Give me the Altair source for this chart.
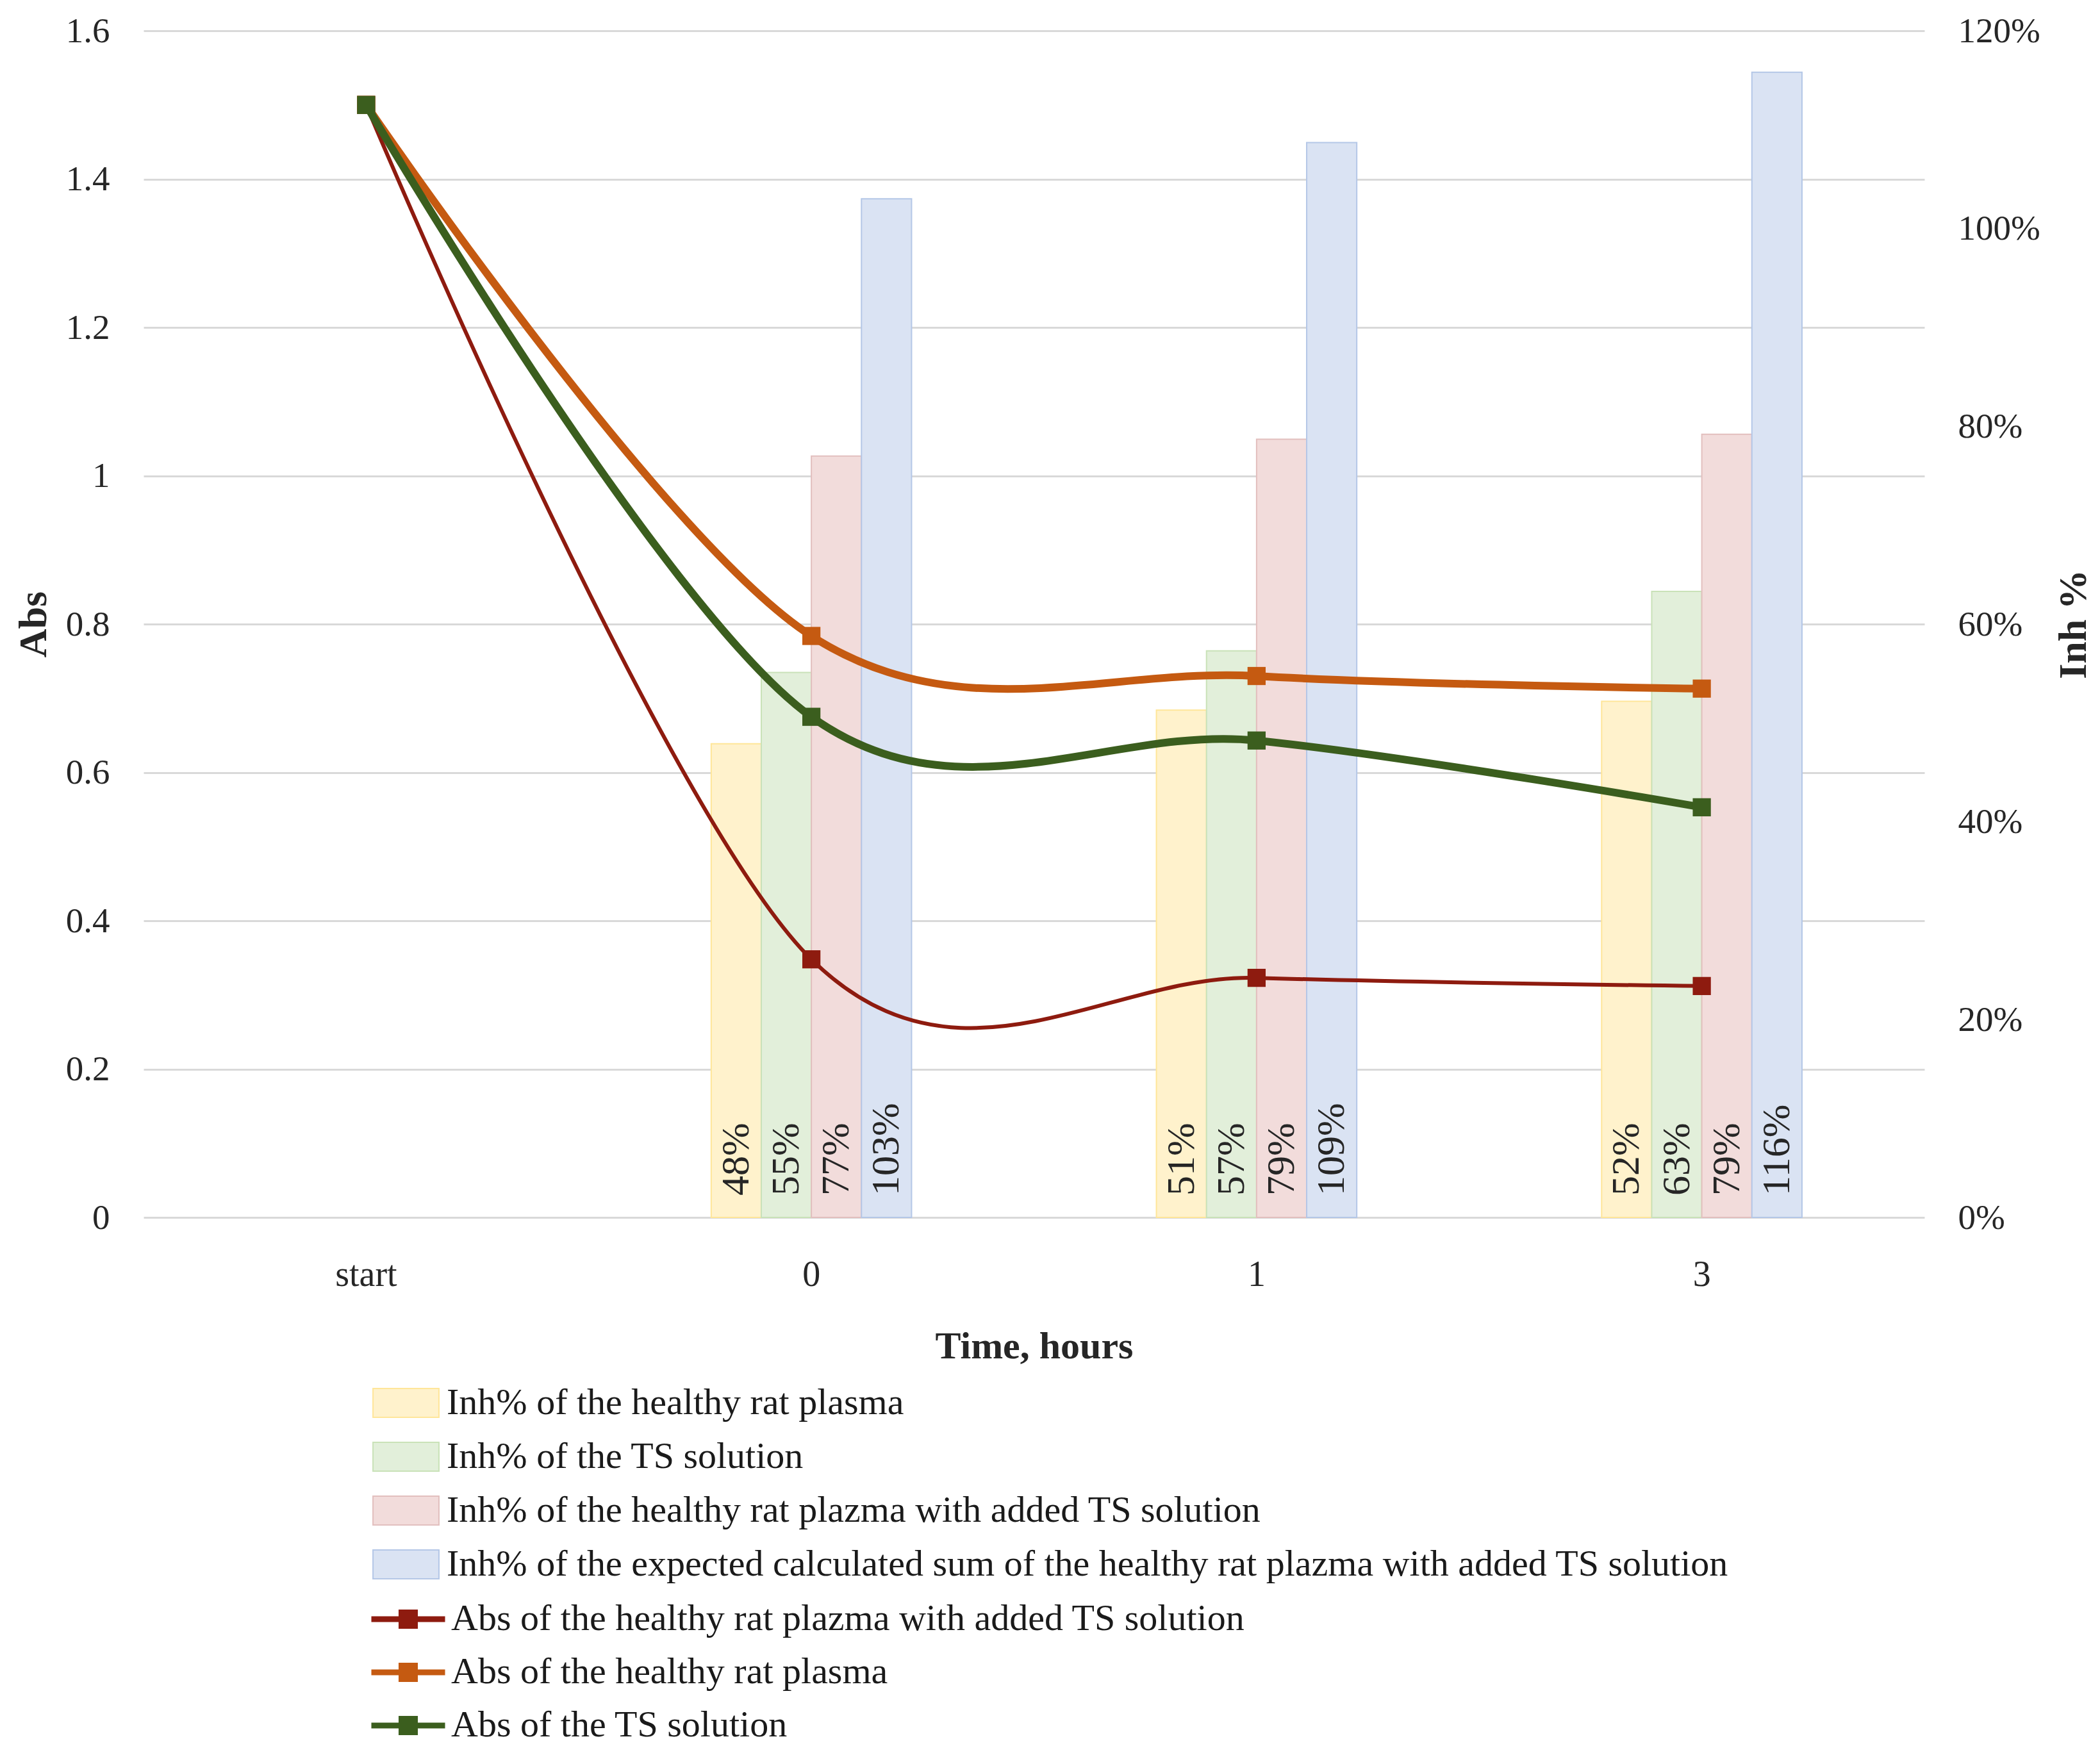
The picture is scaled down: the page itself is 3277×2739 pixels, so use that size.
import altair as alt
import pandas as pd

FONT = "Liberation Serif"

categories = ["start", "0", "1", "3"]
bar_times = ["0", "1", "3"]

bar_series = [
    "Inh% of the healthy rat plasma",
    "Inh% of the TS solution",
    "Inh% of the healthy rat plazma with added TS solution",
    "Inh% of the expected calculated sum of the healthy rat plazma with added TS solution",
]
bar_fills = ["#FFF2CC", "#E2EFDA", "#F2DCDB", "#DAE3F3"]
bar_strokes = ["#FFE699", "#C9E2B8", "#E2BFBE", "#B4C7E7"]

inh_plasma = [0.479, 0.513, 0.522]
inh_ts = [0.551, 0.573, 0.633]
inh_mix = [0.770, 0.787, 0.792]
inh_expected = [1.030, 1.087, 1.158]

line_series = [
    "Abs of the healthy rat plazma with added TS solution",
    "Abs of the healthy rat plasma",
    "Abs of the TS solution",
]
line_colors = ["#8E1B0F", "#C55A11", "#3B5E1E"]
line_widths = [6, 12, 12]

abs_mix = [1.50, 0.348, 0.323, 0.312]
abs_plasma = [1.50, 0.784, 0.730, 0.713]
abs_ts = [1.50, 0.675, 0.643, 0.553]

# ---- tables ----
bar_rows = []
for s, vals in zip(bar_series, [inh_plasma, inh_ts, inh_mix, inh_expected]):
    for t, v in zip(bar_times, vals):
        bar_rows.append({"time": t, "series": s, "pct": v, "base": 0.0})
bar_df = pd.DataFrame(bar_rows)

line_rows = []
for s, vals in zip(line_series, [abs_mix, abs_plasma, abs_ts]):
    for i, (t, v) in enumerate(zip(categories, vals)):
        line_rows.append({"time": t, "series": s, "abs": v, "idx": i})
line_df = pd.DataFrame(line_rows)

x_scale = alt.Scale(domain=categories, paddingInner=0.55, paddingOuter=0.275)
x_axis = alt.Axis(
    title="Time, hours", labelAngle=0, domain=False, ticks=False,
    labelFont=FONT, labelFontSize=56, labelColor="#262626", labelPadding=62,
    titleFont=FONT, titleFontSize=60, titleFontWeight="bold", titleColor="#262626",
    titlePadding=55,
)
off_scale = alt.Scale(domain=bar_series, paddingInner=0, paddingOuter=0)
pct_scale = alt.Scale(domain=[0, 1.2], nice=False)
pct_axis = alt.Axis(
    orient="right", title="Inh %", values=[0, 0.2, 0.4, 0.6, 0.8, 1.0, 1.2],
    format=".0%", grid=False, domain=False, ticks=False,
    labelFont=FONT, labelFontSize=55, labelColor="#262626", labelPadding=52,
    titleFont=FONT, titleFontSize=62, titleFontWeight="bold", titleColor="#262626",
    titleAngle=270, titlePadding=84,
)

LEG_SIZE = 6561
bar_legend = alt.Legend(
    title=None, orient="none", legendX=368, legendY=2100, padding=0,
    symbolType="M-1.27,-0.556H1.27V0.556H-1.27Z", symbolSize=LEG_SIZE, symbolStrokeWidth=2,
    labelFont=FONT, labelFontSize=58, labelColor="#1a1a1a", labelOffset=22,
    rowPadding=13, labelLimit=3000, direction="vertical",
)

bars = alt.Chart(bar_df).mark_bar(strokeWidth=2).encode(
    x=alt.X("time:N", scale=x_scale, axis=x_axis),
    xOffset=alt.XOffset("series:N", scale=off_scale),
    y=alt.Y("pct:Q", scale=pct_scale, axis=pct_axis),
    fill=alt.Fill("series:N", scale=alt.Scale(domain=bar_series, range=bar_fills), legend=bar_legend),
    stroke=alt.Stroke("series:N", scale=alt.Scale(domain=bar_series, range=bar_strokes), legend=bar_legend),
)

bar_text = alt.Chart(bar_df).mark_text(
    angle=270, align="left", baseline="middle", dx=34,
    font=FONT, fontSize=62, color="#262626",
).encode(
    x=alt.X("time:N", scale=x_scale, axis=x_axis),
    xOffset=alt.XOffset("series:N", scale=off_scale),
    y=alt.Y("base:Q", scale=pct_scale, axis=pct_axis),
    text=alt.Text("pct:Q", format=".0%"),
)

bar_layer = alt.layer(bars, bar_text)

line_legend = alt.Legend(
    title=None, orient="none", legendX=368, legendY=2434, padding=0,
    symbolType="M-1.42,0H1.42M-0.26,-0.26H0.26V0.26H-0.26ZM-0.142,-0.142H0.142V0.142H-0.142ZM-0.028,-0.028H0.028V0.028H-0.028Z",
    symbolSize=LEG_SIZE, symbolStrokeWidth=9,
    labelFont=FONT, labelFontSize=58, labelColor="#1a1a1a", labelOffset=22,
    rowPadding=9, labelLimit=3000, direction="vertical",
)
abs_axis = alt.Axis(
    orient="left", title="Abs", values=[0, 0.2, 0.4, 0.6, 0.8, 1.0, 1.2, 1.4, 1.6],
    format=".1~f", grid=True, gridColor="#D9D9D9", gridWidth=3, domain=False, ticks=False,
    labelFont=FONT, labelFontSize=55, labelColor="#262626", labelPadding=53,
    titleFont=FONT, titleFontSize=62, titleFontWeight="bold", titleColor="#262626",
    titlePadding=18,
)
abs_scale = alt.Scale(domain=[0, 1.6], nice=False)
color_scale = alt.Scale(domain=line_series, range=line_colors)

line_layers = []
for s, w in zip(line_series, line_widths):
    line_layers.append(
        alt.Chart(line_df).transform_filter(alt.datum.series == s).mark_line(
            interpolate="cardinal", strokeWidth=w,
            point=alt.OverlayMarkDef(shape="square", size=800, filled=True, opacity=1),
        ).encode(
            x=alt.X("time:N", scale=x_scale, axis=x_axis),
            y=alt.Y("abs:Q", scale=abs_scale, axis=abs_axis),
            color=alt.Color("series:N", scale=color_scale, legend=line_legend),
            order="idx:Q",
        )
    )
line_layer = alt.layer(*line_layers)

chart = alt.layer(bar_layer, line_layer).resolve_scale(y="independent").properties(
    width=2779, height=1852,
    padding={"left": 216, "top": 40, "right": 266, "bottom": 834},
    autosize=alt.AutoSizeParams(type="none"),
    background="white",
).configure_view(stroke=None)

chart.save("out.html", embed_options={"renderer": "svg", "actions": False})
